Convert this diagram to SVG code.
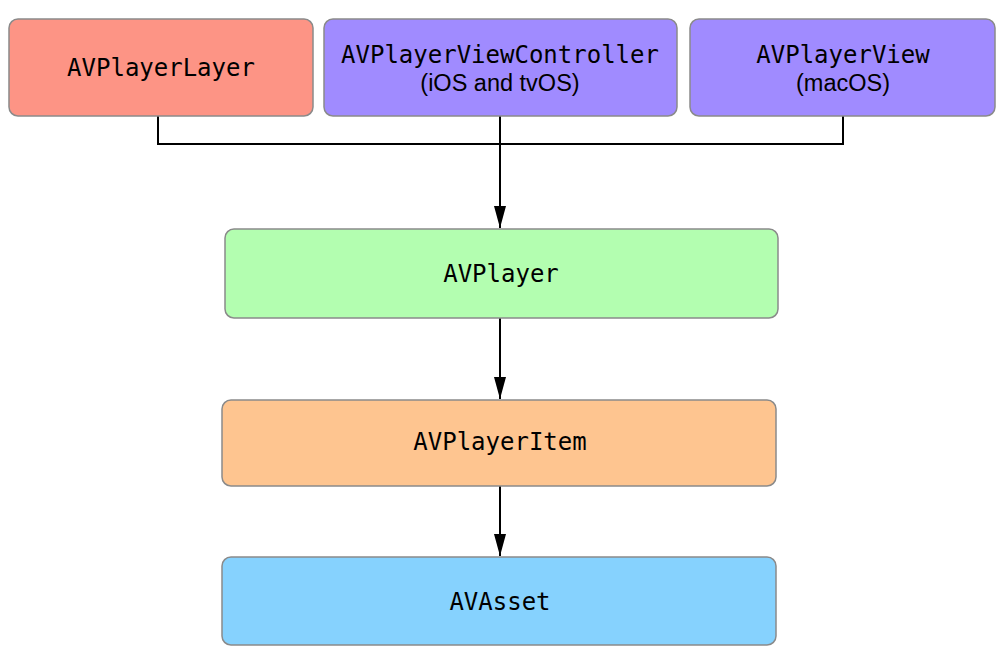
<svg xmlns="http://www.w3.org/2000/svg" width="1006" height="660" viewBox="0 0 1006 660">
<style>
.box{stroke:#8a8a8a;stroke-width:1.5}
.mono{font-family:"DejaVu Sans Mono",monospace;font-size:24px;fill:#000;text-anchor:middle}
.sans{font-family:"Liberation Sans",Arial,sans-serif;font-size:23.5px;fill:#000;text-anchor:middle}
.conn{fill:none;stroke:#000;stroke-width:2}
</style>
<defs>
<marker id="arr" viewBox="0 0 22 12" refX="22" refY="6" markerWidth="22" markerHeight="12" markerUnits="userSpaceOnUse" orient="auto">
<path d="M0,0 L22,6 L0,12 Z" fill="#000"/>
</marker>
</defs>
<rect width="1006" height="660" fill="#fff"/>
<g id="connectors">
<polyline class="conn" points="158,116 158,144 843,144 843,116"/>
<line class="conn" x1="500" y1="116" x2="500" y2="228" marker-end="url(#arr)"/>
<line class="conn" x1="500" y1="318" x2="500" y2="399" marker-end="url(#arr)"/>
<line class="conn" x1="500" y1="486" x2="500" y2="556" marker-end="url(#arr)"/>
</g>
<g id="AVPlayerLayer">
<rect class="box" x="9" y="19" width="304" height="97" rx="9" fill="#fd9485"/>
<text class="mono" x="161" y="76">AVPlayerLayer</text>
</g>
<g id="AVPlayerViewController">
<rect class="box" x="324" y="19" width="353" height="97" rx="9" fill="#a08bff"/>
<text class="mono" x="500" y="63">AVPlayerViewController</text>
<text class="sans" x="500" y="91">(iOS and tvOS)</text>
</g>
<g id="AVPlayerView">
<rect class="box" x="690" y="19" width="305" height="97" rx="9" fill="#a08bff"/>
<text class="mono" x="843" y="63">AVPlayerView</text>
<text class="sans" x="843" y="91">(macOS)</text>
</g>
<g id="AVPlayer">
<rect class="box" x="225" y="229" width="553" height="89" rx="9" fill="#b3feb0"/>
<text class="mono" x="501" y="282">AVPlayer</text>
</g>
<g id="AVPlayerItem">
<rect class="box" x="222" y="400" width="554" height="86" rx="9" fill="#fec590"/>
<text class="mono" x="500" y="450">AVPlayerItem</text>
</g>
<g id="AVAsset">
<rect class="box" x="222" y="557" width="554" height="88" rx="9" fill="#86d2fe"/>
<text class="mono" x="500" y="610">AVAsset</text>
</g>
</svg>
